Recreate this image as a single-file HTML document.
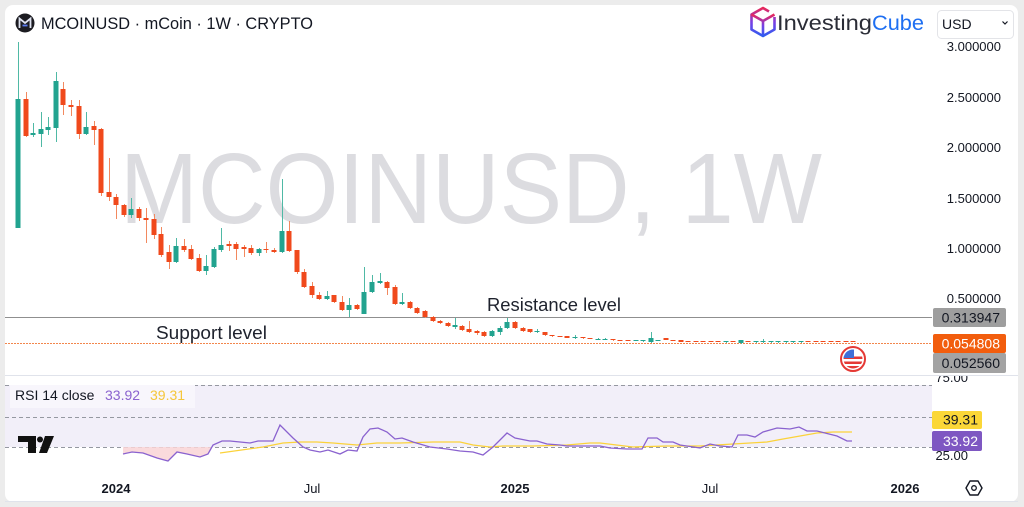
<!DOCTYPE html>
<html>
<head>
<meta charset="utf-8">
<style>
  html,body{margin:0;padding:0;background:#ececec;}
  body{width:1024px;height:507px;overflow:hidden;}
  svg{display:block;font-family:"Liberation Sans",Arial,sans-serif;}
</style>
</head>
<body>
<svg width="1024" height="507" viewBox="0 0 1024 507" xmlns="http://www.w3.org/2000/svg">
  <defs>
    <linearGradient id="cubeg" x1="0" y1="0" x2="0" y2="1">
      <stop offset="0" stop-color="#e8275a"/>
      <stop offset="0.5" stop-color="#7b3fe4"/>
      <stop offset="1" stop-color="#2f5cf0"/>
    </linearGradient>
    <clipPath id="flagclip"><circle cx="853" cy="359" r="9.5"/></clipPath>
    <clipPath id="priceclip"><rect x="930" y="42" width="90" height="333"/></clipPath>
    <clipPath id="rsiclip"><rect x="930" y="376" width="90" height="100"/></clipPath>
    <clipPath id="pinkclip"><rect x="5" y="447" width="930" height="30"/></clipPath>
  </defs>

  <!-- card -->
  <rect x="5" y="5" width="1013" height="497" rx="8" fill="#ffffff"/>

  <!-- watermark -->
  <text x="120" y="223" font-size="100" fill="#dcdce0" textLength="702" lengthAdjust="spacingAndGlyphs">MCOINUSD, 1W</text>

  <!-- header -->
  <circle cx="25" cy="23" r="9.5" fill="#1c1c21"/>
  <path d="M19.5 28V18.5l5.5 4.5 5.5-4.5V28" fill="none" stroke="#dfe3f0" stroke-width="1.8"/>
  <path d="M22.5 25.5h5" stroke="#5b7cf0" stroke-width="1.8"/>
  <text x="41" y="29" font-size="16.5" fill="#131722" textLength="272" lengthAdjust="spacingAndGlyphs">MCOINUSD · mCoin · 1W · CRYPTO</text>

  <!-- InvestingCube logo -->
  <g fill="none" stroke="url(#cubeg)" stroke-width="2.6" stroke-linejoin="round">
    <path d="M769 11.5L763 8 751.5 14.5V29.5L763 36 774.5 29.5V17"/>
    <path d="M751.5 14.5L763 21 774.5 14.5M763 21V36"/>
  </g>
  <text x="777" y="30" font-size="21" fill="#2a2c36" textLength="95" lengthAdjust="spacingAndGlyphs">Investing</text>
  <text x="872" y="30" font-size="21" fill="#1e6ff2" textLength="52" lengthAdjust="spacingAndGlyphs">Cube</text>

  <!-- price scale labels -->
  <g clip-path="url(#priceclip)" font-size="13" fill="#131722" text-anchor="end">
    <text x="1001" y="51">3.000000</text>
    <text x="1001" y="102">2.500000</text>
    <text x="1001" y="152">2.000000</text>
    <text x="1001" y="203">1.500000</text>
    <text x="1001" y="253">1.000000</text>
    <text x="1001" y="303">0.500000</text>
  </g>

  <!-- USD selector -->
  <rect x="937.5" y="10.5" width="76" height="28" rx="4" fill="#ffffff" stroke="#e3e4e8"/>
  <text x="942" y="29" font-size="14" fill="#131722">USD</text>
  <path d="M1002.5 21.5l2.5 2.5 2.5-2.5" fill="none" stroke="#131722" stroke-width="1.2"/>

  <!-- resistance & support lines -->
  <line x1="5" y1="317.5" x2="932" y2="317.5" stroke="#8f8f8f" stroke-width="1"/>
  <line x1="5" y1="343.5" x2="932" y2="343.5" stroke="#f2864c" stroke-width="1" stroke-dasharray="2,1"/>

  <!-- candles: wicks -->
  <path fill="none" stroke="#4fb9a5" stroke-width="1" d="M18.5 42V228M33.5 123V137M41.5 112V147M48.5 117V135M56.5 72V142M86.5 112V135M131.5 198V218M176.5 238V263M206.5 255V275M214.5 247V268M221.5 228V252M259.5 248V256M282.5 179V253M327.5 291V300M349.5 298V317M364.5 267V314M372.5 275V293M380.5 273V284M402.5 293V305M455.5 318V329M492.5 330V337M500.5 326V335M507.5 318V329M537.5 329V333M575.5 335V339M598.5 338V340M605.5 338V340M636.5 340V341M643.5 340V342M651.5 332V343M658.5 340V341M726.5 341V343M741.5 340V344M756.5 341V343M763.5 339V343M771.5 341V343M778.5 341V343M786.5 341V343M793.5 341V343M801.5 341V343"/>
  <path fill="none" stroke="#f2895f" stroke-width="1" d="M26.5 92V137M63.5 82V115M71.5 100V116M79.5 100V139M94.5 121V145M101.5 128V196M109.5 158V201M116.5 194V219M124.5 204V217M139.5 207V221M146.5 208V243M154.5 214V239M161.5 227V257M169.5 245V269M184.5 239V252M191.5 245V260M199.5 254V272M229.5 241V251M236.5 242V260M244.5 245V257M251.5 245V255M266.5 242V253M274.5 248V253M289.5 221V252M297.5 250V274M304.5 269V288M312.5 282V298M319.5 292V300M334.5 295V303M342.5 296V311M357.5 304V310M387.5 281V295M395.5 285V305M410.5 301V309M417.5 307V314M425.5 310V318M433.5 316V322M440.5 320V324M448.5 322V327M462.5 325V331M469.5 321V333M477.5 330V335M484.5 331V337M515.5 321V329M523.5 327V332M530.5 329V333M545.5 332V336M552.5 335V337M560.5 336V337M567.5 336V338M583.5 337V339M590.5 338V339M613.5 339V341M620.5 340V341M628.5 340V341M666.5 338V340M673.5 340V341M681.5 340V342"/>

  <!-- candles: bodies -->
  <path fill="#22a38f" d="M15.5 99h5V228h-5zM30.5 133h5V135h-5zM38.5 129h5V134h-5zM45.5 127h5V130h-5zM53.5 81h5V128h-5zM83.5 127h5V134h-5zM128.5 209h5V215h-5zM173.5 246h5V262h-5zM203.5 266h5V271h-5zM211.5 249h5V267h-5zM218.5 245h5V250h-5zM256.5 249h5V253h-5zM279.5 231h5V252h-5zM324.5 296h5V299h-5zM346.5 305h5V310h-5zM361.5 292h5V314h-5zM369.5 282h5V292h-5zM377.5 281h5V283h-5zM399.5 302h5V304h-5zM452.5 325h5V327h-5zM489.5 331h5V336h-5zM497.5 328h5V332h-5zM504.5 322h5V328h-5zM534.5 331h5V332h-5zM572.5 337h5V338h-5zM595.5 339h5V340h-5zM602.5 339h5V340h-5zM633.5 340h5V341h-5zM640.5 340h5V341h-5zM648.5 338h5V342h-5zM655.5 340h5V341h-5zM723.5 341h5V342h-5zM738.5 340h5V343h-5zM753.5 341h5V342h-5zM760.5 341h5V342h-5zM768.5 341h5V342h-5zM775.5 341h5V342h-5zM783.5 341h5V342h-5zM790.5 341h5V342h-5zM798.5 341h5V342h-5z"/>
  <path fill="#f0491c" d="M23.5 99h5V136h-5zM60.5 89h5V105h-5zM68.5 105h5V107h-5zM76.5 106h5V134h-5zM91.5 126h5V130h-5zM98.5 129h5V193h-5zM106.5 192h5V197h-5zM113.5 197h5V205h-5zM121.5 205h5V215h-5zM136.5 209h5V218h-5zM143.5 218h5V220h-5zM151.5 219h5V235h-5zM158.5 234h5V255h-5zM166.5 252h5V262h-5zM181.5 246h5V250h-5zM188.5 249h5V259h-5zM196.5 258h5V271h-5zM226.5 244h5V246h-5zM233.5 244h5V249h-5zM241.5 247h5V249h-5zM248.5 248h5V253h-5zM263.5 249h5V250h-5zM271.5 250h5V252h-5zM286.5 231h5V251h-5zM294.5 250h5V272h-5zM301.5 272h5V287h-5zM309.5 286h5V295h-5zM316.5 295h5V299h-5zM331.5 295h5V302h-5zM339.5 302h5V310h-5zM354.5 305h5V309h-5zM384.5 282h5V288h-5zM392.5 287h5V304h-5zM407.5 302h5V308h-5zM414.5 308h5V313h-5zM422.5 311h5V317h-5zM430.5 317h5V321h-5zM437.5 321h5V323h-5zM445.5 323h5V326h-5zM459.5 326h5V330h-5zM466.5 329h5V332h-5zM474.5 331h5V333h-5zM481.5 332h5V336h-5zM512.5 322h5V328h-5zM520.5 328h5V331h-5zM527.5 329h5V332h-5zM542.5 332h5V335h-5zM549.5 335h5V336h-5zM557.5 336h5V337h-5zM564.5 336h5V338h-5zM580.5 337h5V338h-5zM587.5 338h5V339h-5zM610.5 339h5V340h-5zM617.5 340h5V341h-5zM625.5 340h5V341h-5zM663.5 338h5V340h-5zM670.5 340h5V341h-5zM678.5 340h5V342h-5zM685.5 341h5V342h-5zM693.5 341h5V342h-5zM700.5 341h5V342h-5zM708.5 341h5V342h-5zM715.5 341h5V342h-5zM730.5 341h5V342h-5zM745.5 341h5V342h-5zM805.5 341h5V342h-5zM813.5 341h5V342h-5zM820.5 341h5V342h-5zM828.5 341h5V342h-5zM835.5 341h5V342h-5zM843.5 341h5V342h-5zM850.5 341h5V342h-5z"/>

  <!-- annotation texts -->
  <text x="487" y="311" font-size="18" fill="#1e222d" textLength="134" lengthAdjust="spacingAndGlyphs">Resistance level</text>
  <text x="156" y="339" font-size="18" fill="#1e222d" textLength="111" lengthAdjust="spacingAndGlyphs">Support level</text>

  <!-- price tags -->
  <rect x="933" y="308" width="73" height="19" rx="2" fill="#9e9e9e"/>
  <text x="1000" y="322.5" font-size="14" fill="#131722" text-anchor="end">0.313947</text>
  <rect x="933" y="334" width="73" height="19" rx="2" fill="#f25d0d"/>
  <text x="1000" y="348.5" font-size="14" fill="#ffffff" text-anchor="end">0.054808</text>
  <rect x="933" y="353" width="73" height="20" rx="2" fill="#a3a3a3"/>
  <text x="1000" y="368" font-size="14" fill="#131722" text-anchor="end">0.052560</text>

  <!-- US flag event icon -->
  <circle cx="853" cy="359" r="12" fill="#ffffff" stroke="#e53935" stroke-width="2"/>
  <g clip-path="url(#flagclip)">
    <rect x="843" y="349" width="20" height="20" fill="#ffffff"/>
    <rect x="843" y="356.5" width="20" height="2.5" fill="#e53935"/>
    <rect x="843" y="361.5" width="20" height="2.5" fill="#e53935"/>
    <rect x="843" y="366" width="20" height="4" fill="#e53935"/>
    <rect x="843" y="349" width="11" height="9" fill="#3f6fd8"/>
  </g>

  <!-- panel separator -->
  <line x1="5" y1="375.5" x2="1018" y2="375.5" stroke="#e0e3eb" stroke-width="1"/>

  <!-- RSI panel -->
  <rect x="5" y="385" width="927" height="62" fill="#f2eff9"/>
  <line x1="5" y1="385.5" x2="932" y2="385.5" stroke="#9598a1" stroke-dasharray="4,3"/>
  <line x1="5" y1="417.5" x2="932" y2="417.5" stroke="#9598a1" stroke-dasharray="4,3"/>
  <line x1="5" y1="447.5" x2="932" y2="447.5" stroke="#9598a1" stroke-dasharray="4,3"/>

  <g clip-path="url(#pinkclip)">
    <polygon fill="#f9d4d6" opacity="0.85" points="123,447 123,454 132,452 143,453 157,458 168,461 177,452 187,454 200,457 208,454 213,445 213,447"/>
  </g>

  <polyline fill="none" stroke="#fbd23a" stroke-width="1.3" points="220,453 263,447 283,443 300,442 317,442 333,443 357,445 377,443 400,443 433,442 460,442 473,445 490,447 503,446 520,446 533,446 567,445 590,443 600,443 633,447 667,446 700,446 733,444 767,442 783,439 800,436 817,433 833,432 852,432"/>
  <polyline fill="none" stroke="#8a62cf" stroke-width="1.3" points="123,454 132,452 143,453 157,458 168,461 177,452 187,454 200,457 208,454 213,445 222,441 230,441 240,442 250,443 258,441 273,441 280,425 293,438 303,447 310,450 320,452 328,450 340,454 348,450 357,451 363,437 370,429 378,428 387,432 395,439 402,438 413,442 430,447 447,449 460,451 473,452 483,455 493,447 507,433 515,438 530,441 537,441 547,444 560,445 567,446 587,446 600,446 610,448 627,449 642,449 648,438 657,438 663,442 673,442 680,445 700,448 710,444 720,446 732,447 738,435 747,435 755,437 763,432 777,428 790,429 799,427 807,431 817,431 825,433 837,436 847,441 852,441"/>

  <!-- RSI legend -->
  <rect x="10" y="385" width="185" height="23" fill="#f8f6fc"/>
  <text x="15" y="400" font-size="14" fill="#131722">RSI 14 close</text>
  <text x="105" y="400" font-size="14" fill="#8a62cf">33.92</text>
  <text x="150" y="400" font-size="14" fill="#f5c63a">39.31</text>

  <!-- TradingView logo -->
  <g fill="#111111">
    <path d="M18 436h18v17h-8v-11h-10z"/>
    <circle cx="40" cy="439.5" r="3"/>
    <path d="M45 436h9l-7 17h-8z"/>
  </g>

  <!-- RSI scale -->
  <g clip-path="url(#rsiclip)" font-size="13" fill="#131722" text-anchor="end">
    <text x="968" y="382">75.00</text>
    <text x="968" y="460">25.00</text>
  </g>
  <rect x="932" y="411" width="50" height="18" rx="2" fill="#fbd737"/>
  <text x="978" y="424.5" font-size="14" fill="#131722" text-anchor="end">39.31</text>
  <rect x="932" y="431" width="50" height="20" rx="2" fill="#7e57c2"/>
  <text x="978" y="446" font-size="14" fill="#ffffff" text-anchor="end">33.92</text>

  <!-- time axis -->
  <g font-size="13" fill="#131722" text-anchor="middle">
    <text x="116" y="493" font-weight="bold">2024</text>
    <text x="312" y="493">Jul</text>
    <text x="515" y="493" font-weight="bold">2025</text>
    <text x="710" y="493">Jul</text>
    <text x="905" y="493" font-weight="bold">2026</text>
  </g>

  <!-- settings icon -->
  <path d="M970 481h8l4 7-4 7h-8l-4-7z" fill="none" stroke="#131722" stroke-width="1.4" stroke-linejoin="round"/>
  <circle cx="974" cy="488" r="2.3" fill="none" stroke="#131722" stroke-width="1.3"/>

  <!-- bottom border -->
  <line x1="5" y1="501.5" x2="1018" y2="501.5" stroke="#e0e3eb" stroke-width="1"/>
</svg>
</body>
</html>
